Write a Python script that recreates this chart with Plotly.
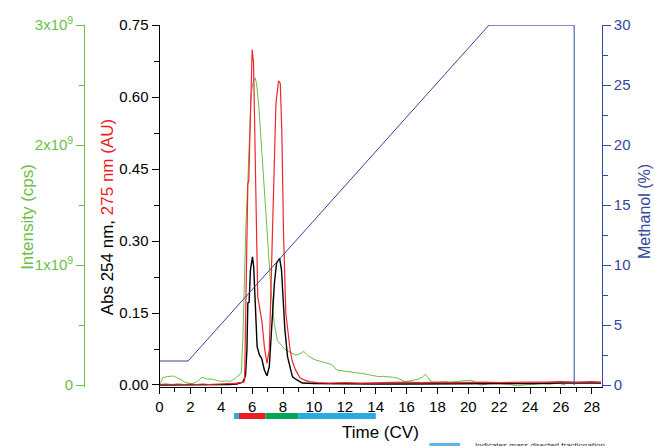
import plotly.graph_objects as go

# UV trace at 275 nm (AU)
time_275 = [0.0, 0.4, 0.8, 1.2, 1.6, 2.0, 2.4, 2.8, 3.2, 3.6, 4.0, 4.4, 4.8, 5.1, 5.3, 5.45,
            5.51, 5.57, 5.66, 5.72, 5.78, 5.87, 6.0, 6.09, 6.17, 6.25, 6.36, 6.51, 6.64, 6.79,
            6.96, 7.11, 7.26, 7.39, 7.54, 7.71, 7.82, 7.92, 8.03, 8.18, 8.3, 8.45, 8.6, 8.8,
            9.1, 9.4, 9.7, 10.2, 11, 12, 13, 14, 15, 16, 17, 18, 19, 20, 21, 22, 23, 24, 25,
            26, 27, 28, 28.6]
abs_275 = [0.001, 0.002, 0.001, 0.002, 0.001, 0.002, 0.001, 0.002, 0.001, 0.002, 0.002, 0.003,
           0.003, 0.004, 0.005, 0.006, 0.01, 0.115, 0.32, 0.42, 0.425, 0.566, 0.699, 0.67, 0.50,
           0.32, 0.184, 0.156, 0.13, 0.08, 0.045, 0.073, 0.254, 0.46, 0.587, 0.634, 0.629, 0.53,
           0.32, 0.15, 0.115, 0.075, 0.05, 0.032, 0.015, 0.01, 0.007, 0.005, 0.004, 0.005,
           0.004, 0.005, 0.005, 0.006, 0.005, 0.006, 0.005, 0.006, 0.006, 0.005, 0.006, 0.006,
           0.006, 0.007, 0.006, 0.007, 0.006]

# UV trace at 254 nm (AU)
time_254 = [0.0, 1.0, 2.0, 3.0, 4.0, 4.5, 5.0, 5.4, 5.57, 5.66, 5.72, 5.8, 5.89, 6.02, 6.1,
            6.21, 6.32, 6.47, 6.62, 6.79, 6.96, 7.11, 7.26, 7.44, 7.58, 7.78, 7.9, 8.01, 8.12,
            8.29, 8.5, 8.61, 8.82, 9.04, 9.25, 10, 12, 14, 16, 18, 20, 22, 24, 26, 28, 28.6]
abs_254 = [0.0, 0.0, 0.0, 0.0, 0.0, 0.001, 0.002, 0.006, 0.02, 0.073, 0.171, 0.172, 0.24, 0.267,
           0.246, 0.15, 0.08, 0.0625, 0.055, 0.031, 0.019, 0.038, 0.115, 0.212, 0.254, 0.264,
           0.24, 0.163, 0.115, 0.059, 0.031, 0.017, 0.012, 0.007, 0.004, 0.003, 0.002, 0.002,
           0.002, 0.002, 0.003, 0.003, 0.003, 0.004, 0.004, 0.004]

# MS total ion intensity (cps)
time_ms = [0.05, 0.2, 0.5, 0.9, 1.15, 1.4, 1.7, 2.1, 2.45, 2.75, 3.05, 3.35, 3.7, 3.95, 4.3,
           4.6, 4.95, 5.15, 5.3, 5.4, 5.5, 5.6, 5.72, 5.83, 5.93, 6.05, 6.19, 6.28, 6.43, 6.65,
           6.8, 7.0, 7.21, 7.43, 7.64, 7.9, 8.1, 8.37, 8.6, 8.8, 9.1, 9.34, 9.5, 9.66, 10.08,
           10.35, 10.6, 10.9, 11.16, 11.48, 11.75, 12.0, 12.3, 12.56, 12.85, 13.1, 13.35, 13.6,
           13.9, 14.17, 14.5, 14.8, 15.1, 15.45, 15.7, 15.9, 16.2, 16.5, 16.8, 17.08, 17.2,
           17.35, 17.5, 17.8, 18.1, 18.47, 18.8, 19.1, 19.4, 19.66, 19.9, 20.2, 20.5, 20.8,
           21.1, 21.5, 21.9, 22.3, 22.6, 22.9, 23.2, 23.6, 24.0, 24.4, 24.8, 25.2, 25.6, 25.9,
           26.1, 26.3]
intensity = [0.01e9, 0.06e9, 0.07e9, 0.075e9, 0.06e9, 0.04e9, 0.02e9, 0.01e9, 0.03e9, 0.065e9,
             0.05e9, 0.05e9, 0.04e9, 0.03e9, 0.035e9, 0.03e9, 0.06e9, 0.08e9, 0.1e9, 0.4e9,
             0.9e9, 1.35e9, 1.7e9, 2.15e9, 2.42e9, 2.52e9, 2.56e9, 2.52e9, 2.32e9, 1.90e9,
             1.62e9, 1.18e9, 0.81e9, 0.51e9, 0.37e9, 0.33e9, 0.3e9, 0.28e9, 0.26e9, 0.25e9,
             0.26e9, 0.28e9, 0.26e9, 0.24e9, 0.21e9, 0.2e9, 0.19e9, 0.18e9, 0.17e9, 0.125e9,
             0.12e9, 0.11e9, 0.105e9, 0.1e9, 0.1e9, 0.097e9, 0.09e9, 0.083e9, 0.075e9, 0.07e9,
             0.072e9, 0.07e9, 0.065e9, 0.056e9, 0.04e9, 0.028e9, 0.035e9, 0.042e9, 0.05e9,
             0.07e9, 0.09e9, 0.07e9, 0.042e9, 0.014e9, 0.02e9, 0.028e9, 0.025e9, 0.028e9,
             0.03e9, 0.036e9, 0.04e9, 0.04e9, 0.02e9, 0.0, 0.005e9, 0.015e9, 0.015e9, 0.012e9,
             0.005e9, 0.0, -0.005e9, 0.0, 0.005e9, 0.008e9, 0.01e9, 0.005e9, 0.012e9, 0.018e9,
             0.005e9, 0.0]

# methanol gradient (%)
time_meoh = [0.0, 1.85, 21.34, 26.86, 26.86]
methanol = [2, 2, 30, 30, 0]

# fraction collection windows (CV)
frac_start = [4.82, 5.14, 6.86, 8.98]
frac_end = [5.14, 6.86, 8.98, 14.01]
frac_kind = ['mass', 'peak1', 'peak2', 'mass']

GREEN = '#6BBE48'
RED = '#EE1C25'
BLUE = '#34479C'
FONT = 'Liberation Sans, Arial, sans-serif'
kind_colour = {'mass': '#29ABE2', 'peak1': '#ED1C24', 'peak2': '#00A651'}

W, H = 654, 446
T = 25            # plot top at y=25
B = H - 387       # plot bottom at y=387


def px(x):
    # pixel x -> paper fraction
    return x / W


def py(y):
    # pixel y -> paper fraction
    return (H - B - y) / (H - T - B)


fig = go.Figure()

fig.add_trace(go.Scatter(x=time_ms, y=intensity, mode='lines', yaxis='y',
                         line=dict(color=GREEN, width=1)))
fig.add_trace(go.Scatter(x=time_254, y=abs_254, mode='lines', yaxis='y2',
                         line=dict(color='black', width=1.4)))
fig.add_trace(go.Scatter(x=time_275, y=abs_275, mode='lines', yaxis='y2',
                         line=dict(color='#F0262B', width=1.2)))
fig.add_trace(go.Scatter(x=time_meoh, y=methanol, mode='lines', yaxis='y3',
                         line=dict(color=BLUE, width=1)))

# fraction bar under the time axis
for s, e, k in zip(frac_start, frac_end, frac_kind):
    fig.add_shape(type='rect', xref='x', yref='paper', x0=s, x1=e, y0=py(419), y1=py(413),
                  fillcolor=kind_colour[k], line_width=0, layer='above')

# legend swatch
fig.add_shape(type='rect', xref='paper', yref='paper', x0=px(428), x1=px(459),
              y0=py(452), y1=py(443), fillcolor='#5BB8E6', line_width=0)

tickfont = dict(family=FONT, size=15)

fig.update_layout(
    width=W, height=H,
    margin=dict(l=0, r=0, t=T, b=B),
    plot_bgcolor='white', paper_bgcolor='white',
    showlegend=False, hovermode=False,
    font=dict(family=FONT, color='black'),
    xaxis=dict(domain=[px(156.5), px(601.5)], range=[0, 28.65], tick0=0, dtick=2,
               ticks='outside', ticklen=6, tickcolor='black', showline=True,
               linecolor='black', showgrid=False, zeroline=False, tickfont=tickfont,
               minor=dict(dtick=1, ticklen=4, tickcolor='black', ticks='outside'),
               anchor='y2'),
    yaxis=dict(anchor='free', position=px(80.7), side='left',
               range=[-0.0167e9, 3.001e9], tickmode='array',
               tickvals=[0, 1e9, 2e9, 3e9],
               ticktext=['0', '1x10<sup>9</sup>', '2x10<sup>9</sup>', '3x10<sup>9</sup>'],
               ticks='outside', ticklen=8, tickcolor=GREEN, showline=True,
               linecolor=GREEN, showgrid=False, zeroline=False,
               tickfont=dict(family=FONT, size=15, color=GREEN),
               minor=dict(tickvals=[0.5e9, 1.5e9, 2.5e9], ticklen=5, tickcolor=GREEN,
                          ticks='outside')),
    yaxis2=dict(overlaying='y', anchor='x', side='left', range=[-0.0042, 0.7502],
                tick0=0, dtick=0.15, tickformat='.2f', ticks='outside', ticklen=7,
                tickcolor='black', showline=True, linecolor='black', showgrid=False,
                zeroline=False, tickfont=tickfont,
                minor=dict(dtick=0.075, ticklen=5, tickcolor='black', ticks='outside')),
    yaxis3=dict(overlaying='y', anchor='x', side='right', range=[-0.167, 30.01],
                tick0=0, dtick=5, ticks='outside', ticklen=8, tickcolor=BLUE,
                showline=True, linecolor=BLUE, showgrid=False, zeroline=False,
                tickfont=dict(family=FONT, size=15, color=BLUE),
                minor=dict(dtick=2.5, ticklen=5, tickcolor=BLUE, ticks='outside')),
)

fig.add_annotation(text='Intensity (cps)', xref='paper', yref='paper', x=px(23), y=py(217),
                   xanchor='center', yanchor='middle', textangle=-90, showarrow=False,
                   font=dict(family=FONT, size=17, color=GREEN))
fig.add_annotation(text="Abs 254 nm, <span style='color:%s'>275 nm (AU)</span>" % RED,
                   xref='paper', yref='paper', x=px(104), y=py(217), textangle=-90,
                   xanchor='center', yanchor='middle', showarrow=False,
                   font=dict(family=FONT, size=17, color='black'))
fig.add_annotation(text='Methanol (%)', xref='paper', yref='paper', x=px(644), y=py(212),
                   xanchor='center', yanchor='middle', textangle=-90, showarrow=False,
                   font=dict(family=FONT, size=16, color=BLUE))
fig.add_annotation(text='Time (CV)', xref='paper', yref='paper', x=px(379), y=py(432),
                   xanchor='center', yanchor='middle', showarrow=False,
                   font=dict(family=FONT, size=17, color='black'))
fig.add_annotation(text='Indicates mass directed fractionation', xref='paper', yref='paper',
                   x=px(472), y=py(439), xanchor='left', yanchor='top', showarrow=False,
                   font=dict(family=FONT, size=8, color='#333333'))

# drop the default page margin so the figure sits at the window corner
fig.write_html("out.html", config={'displayModeBar': False},
               post_script="document.body.style.margin='0';")
